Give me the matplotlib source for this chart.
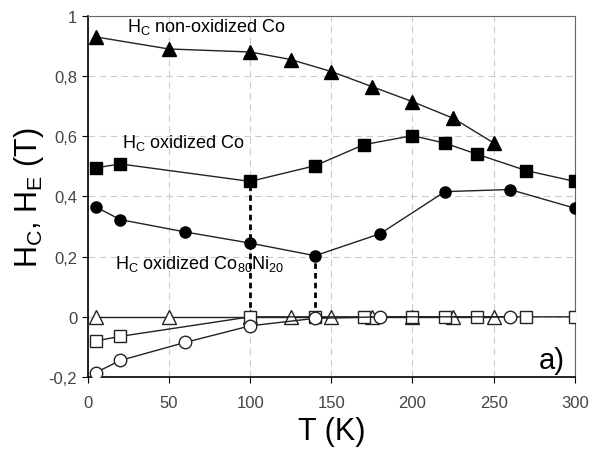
import numpy as np
import matplotlib.pyplot as plt

plt.rcParams['font.family'] = ['Liberation Sans', 'DejaVu Sans']

# HC non-oxidized Co (filled triangles)
t_tri = [5, 50, 100, 125, 150, 175, 200, 225, 250]
hc_tri = [0.93, 0.89, 0.88, 0.855, 0.815, 0.765, 0.715, 0.66, 0.578]

# HC oxidized Co (filled squares)
t_sq = [5, 20, 100, 140, 170, 200, 220, 240, 270, 300]
hc_sq = [0.495, 0.508, 0.45, 0.502, 0.572, 0.602, 0.577, 0.54, 0.486, 0.45]

# HC oxidized Co80Ni20 (filled circles)
t_ci = [5, 20, 60, 100, 140, 180, 220, 260, 300]
hc_ci = [0.365, 0.323, 0.282, 0.245, 0.203, 0.276, 0.416, 0.423, 0.361]

# HE (open symbols)
t_tri_e = [5, 50, 100, 125, 150, 175, 200, 225, 250]
he_tri = [0, 0, 0, 0, 0, 0, 0, 0, 0]
t_sq_e = [5, 20, 100, 140, 170, 200, 220, 240, 270, 300]
he_sq = [-0.08, -0.065, 0, 0, 0, 0, 0, 0, 0, 0]
t_ci_e = [5, 20, 60, 100, 140, 180, 260]
he_ci = [-0.185, -0.145, -0.085, -0.03, -0.005, 0, 0]

# dashed drop lines
t_drop = [100, 140]
h_drop = [0.45, 0.203]

xticks = [0, 50, 100, 150, 200, 250, 300]
yticks = [-0.2, 0, 0.2, 0.4, 0.6, 0.8, 1]
ylabels = ['-0,2', '0', '0,2', '0,4', '0,6', '0,8', '1']

fig = plt.figure(figsize=(5.89, 4.56), dpi=100)
ax = fig.add_axes([0.149, 0.171, 0.827, 0.792])

for x, h in zip(t_drop, h_drop):
    ax.plot([x, x], [0, h], color='black', lw=2, ls=(0, (2, 1.5)), zorder=2)

ax.plot(t_tri_e, he_tri, color='#222222', lw=1, marker='^', ms=10,
        mfc='white', mec='#222222', mew=1, zorder=3)
ax.plot(t_sq_e, he_sq, color='#222222', lw=1, marker='s', ms=9,
        mfc='white', mec='#222222', mew=1, zorder=3)
ax.plot(t_ci_e, he_ci, color='#222222', lw=1, marker='o', ms=9,
        mfc='white', mec='#222222', mew=1, zorder=3)

ax.plot(t_tri, hc_tri, color='#222222', lw=1, marker='^', ms=10,
        mfc='black', mec='black', zorder=4)
ax.plot(t_sq, hc_sq, color='#222222', lw=1, marker='s', ms=8,
        mfc='black', mec='black', zorder=4)
ax.plot(t_ci, hc_ci, color='#222222', lw=1, marker='o', ms=8,
        mfc='black', mec='black', zorder=4)

ax.set_xlim(0, 300)
ax.set_ylim(-0.2, 1)
ax.set_xticks(xticks)
ax.set_yticks(yticks)
ax.set_yticklabels(ylabels)
ax.tick_params(direction='out', length=4, labelsize=12, labelcolor='#444444')
ax.tick_params(axis='x', pad=9)
ax.grid(True, color='#cccccc', ls=(0, (6, 4)), lw=0.8)
ax.set_axisbelow(True)
for s in ['top', 'right']:
    ax.spines[s].set_color('#666666')
ax.spines['left'].set_linewidth(1.2)
ax.spines['bottom'].set_linewidth(1.2)

ax.set_xlabel('T (K)', fontsize=22, labelpad=4)
ax.set_ylabel('H$_\\mathregular{C}$, H$_\\mathregular{E}$ (T)', fontsize=22, labelpad=2)

ax.text(24, 0.965, 'H$_\\mathregular{C}$ non-oxidized Co', fontsize=13, va='center')
ax.text(21, 0.58, 'H$_\\mathregular{C}$ oxidized Co', fontsize=13, va='center')
ax.text(17, 0.18, 'H$_\\mathregular{C}$ oxidized Co$_\\mathregular{80}$Ni$_\\mathregular{20}$',
        fontsize=13, va='center')
ax.text(294, -0.145, 'a)', fontsize=21, ha='right', va='center')

fig.savefig('out.png', dpi=100)
